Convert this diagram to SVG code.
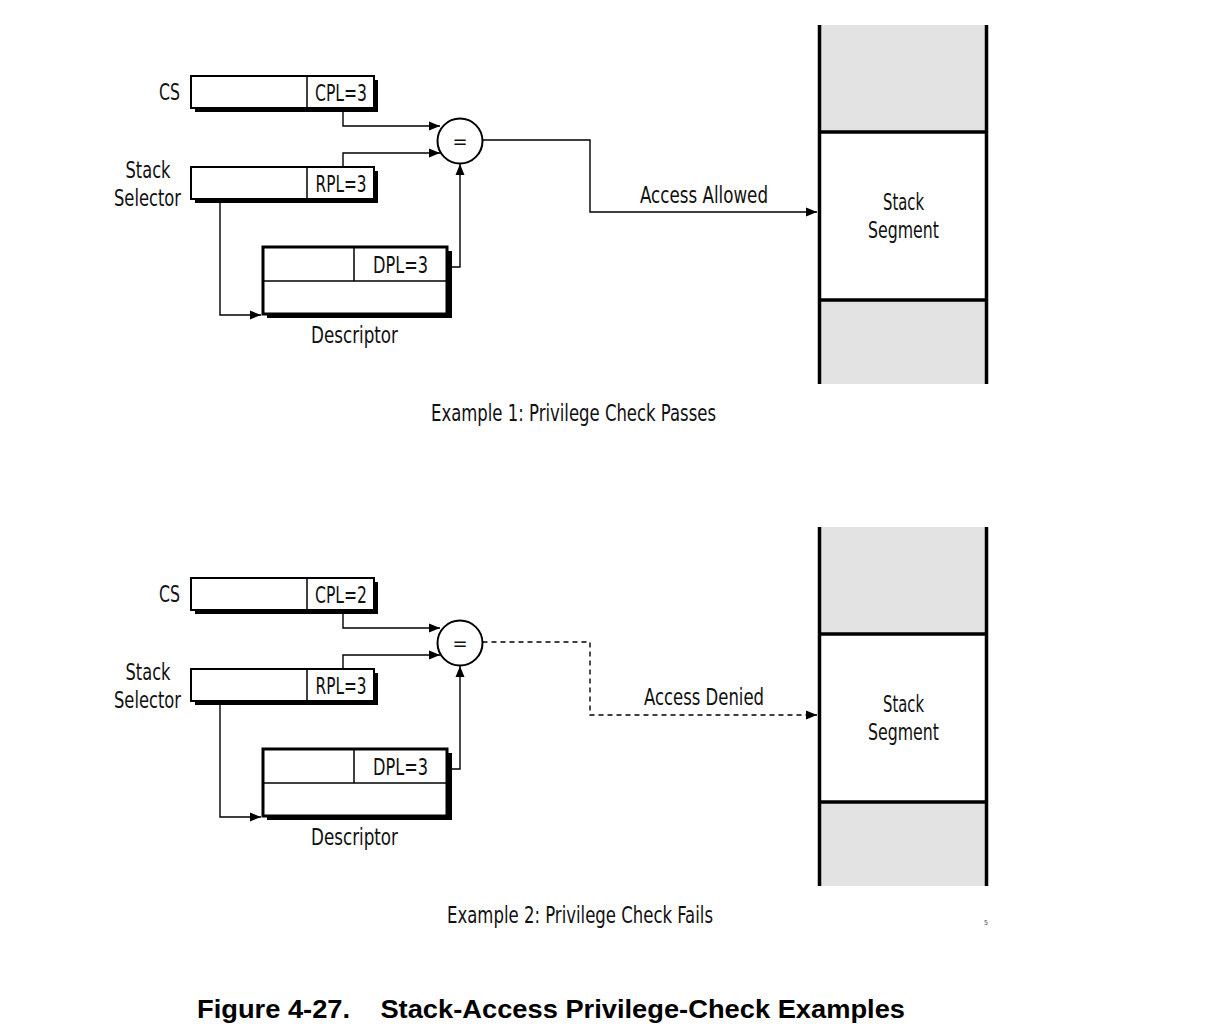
<svg xmlns="http://www.w3.org/2000/svg" width="1206" height="1034" viewBox="0 0 1206 1034">
<defs>
<marker id="arr" markerUnits="userSpaceOnUse" markerWidth="12" markerHeight="10" refX="11" refY="5" orient="auto">
<path d="M0,0.5 L11,5 L0,9.5 z" fill="#000"/>
</marker>
<style>
text{font-family:"Liberation Sans Narrow","DejaVu Sans Condensed","Liberation Sans",sans-serif;font-size:23px;fill:#111}
.cap{font-family:"Liberation Sans",Arial,sans-serif;font-weight:bold;font-size:26px;fill:#000}
.tiny{font-size:7px;fill:#445}
.eq{font-size:20px}
.sh{fill:#000}
.bx{fill:#fff;stroke:#000;stroke-width:2}
.dbx{fill:#fff;stroke:#000;stroke-width:3}
.div{stroke:#000;stroke-width:1.5;fill:none}
.con{stroke:#000;stroke-width:1.4;fill:none}
.dash{stroke-dasharray:5,4}
.cmp{fill:#fff;stroke:#000;stroke-width:2}
.gray{fill:#e3e3e3}
.wall{stroke:#000;stroke-width:3.5;fill:none}
.mid{text-anchor:middle}
.end{text-anchor:end}
</style>
</defs>
<rect width="1206" height="1034" fill="#fff"/>

<!-- Example 1 -->
<g id="ex1">
<g id="cs1">
<rect class="sh" x="195" y="80" width="183" height="32"/>
<rect class="bx" x="191" y="76" width="183" height="32"/>
<line class="div" x1="307" y1="76" x2="307" y2="108"/>
<text x="341" y="101" class="mid" textLength="52" lengthAdjust="spacingAndGlyphs">CPL=3</text>
<text x="180" y="100" class="end" textLength="21" lengthAdjust="spacingAndGlyphs">CS</text>
</g>
<g id="sel1">
<rect class="sh" x="195" y="171" width="183" height="32"/>
<rect class="bx" x="191" y="167" width="183" height="32"/>
<line class="div" x1="307" y1="167" x2="307" y2="199"/>
<text x="341" y="192" class="mid" textLength="51" lengthAdjust="spacingAndGlyphs">RPL=3</text>
<text x="148" y="178" class="mid" textLength="45" lengthAdjust="spacingAndGlyphs">Stack</text>
<text x="147.5" y="206" class="mid" textLength="67" lengthAdjust="spacingAndGlyphs">Selector</text>
</g>
<g id="desc1">
<rect class="sh" x="267" y="251" width="185" height="67"/>
<rect class="dbx" x="263" y="247" width="184" height="67"/>
<line class="div" x1="263" y1="281" x2="447" y2="281"/>
<line class="div" x1="354" y1="247" x2="354" y2="281"/>
<text x="400.5" y="273" class="mid" textLength="55" lengthAdjust="spacingAndGlyphs">DPL=3</text>
<text x="354.5" y="343" class="mid" textLength="87" lengthAdjust="spacingAndGlyphs">Descriptor</text>
</g>
<g id="cmp1">
<circle class="cmp" cx="460" cy="141" r="22.5"/>
<text x="460" y="148" class="mid eq">=</text>
</g>
<g id="seg1">
<rect class="gray" x="820" y="25" width="166" height="359"/>
<rect fill="#fff" x="820" y="132" width="166" height="168"/>
<line class="wall" x1="819.5" y1="25" x2="819.5" y2="384"/>
<line class="wall" x1="986.5" y1="25" x2="986.5" y2="384"/>
<line class="wall" x1="818" y1="132" x2="988" y2="132"/>
<line class="wall" x1="818" y1="300" x2="988" y2="300"/>
<text x="903.5" y="210" class="mid" textLength="41" lengthAdjust="spacingAndGlyphs">Stack</text>
<text x="903.5" y="238" class="mid" textLength="71" lengthAdjust="spacingAndGlyphs">Segment</text>
</g>
<g id="conn1">
<path class="con" d="M343,108 V126 H440" marker-end="url(#arr)"/>
<path class="con" d="M343,167 V153 H440" marker-end="url(#arr)"/>
<path class="con" d="M449,267 H460 V164" marker-end="url(#arr)"/>
<path class="con" d="M220,203 V315 H261" marker-end="url(#arr)"/>
<path class="con" d="M482.5,140 H590 V212 H817" marker-end="url(#arr)"/>
<text x="704" y="203" class="mid" textLength="128" lengthAdjust="spacingAndGlyphs">Access Allowed</text>
</g>
<text x="573.5" y="421" class="mid" textLength="285" lengthAdjust="spacingAndGlyphs">Example 1: Privilege Check Passes</text>
</g>

<!-- Example 2 -->
<g id="ex2" transform="translate(0,502)">
<g id="cs2">
<rect class="sh" x="195" y="80" width="183" height="32"/>
<rect class="bx" x="191" y="76" width="183" height="32"/>
<line class="div" x1="307" y1="76" x2="307" y2="108"/>
<text x="341" y="101" class="mid" textLength="52" lengthAdjust="spacingAndGlyphs">CPL=2</text>
<text x="180" y="100" class="end" textLength="21" lengthAdjust="spacingAndGlyphs">CS</text>
</g>
<g id="sel2">
<rect class="sh" x="195" y="171" width="183" height="32"/>
<rect class="bx" x="191" y="167" width="183" height="32"/>
<line class="div" x1="307" y1="167" x2="307" y2="199"/>
<text x="341" y="192" class="mid" textLength="51" lengthAdjust="spacingAndGlyphs">RPL=3</text>
<text x="148" y="178" class="mid" textLength="45" lengthAdjust="spacingAndGlyphs">Stack</text>
<text x="147.5" y="206" class="mid" textLength="67" lengthAdjust="spacingAndGlyphs">Selector</text>
</g>
<g id="desc2">
<rect class="sh" x="267" y="251" width="185" height="67"/>
<rect class="dbx" x="263" y="247" width="184" height="67"/>
<line class="div" x1="263" y1="281" x2="447" y2="281"/>
<line class="div" x1="354" y1="247" x2="354" y2="281"/>
<text x="400.5" y="273" class="mid" textLength="55" lengthAdjust="spacingAndGlyphs">DPL=3</text>
<text x="354.5" y="343" class="mid" textLength="87" lengthAdjust="spacingAndGlyphs">Descriptor</text>
</g>
<g id="cmp2">
<circle class="cmp" cx="460" cy="141" r="22.5"/>
<text x="460" y="148" class="mid eq">=</text>
</g>
<g id="seg2">
<rect class="gray" x="820" y="25" width="166" height="359"/>
<rect fill="#fff" x="820" y="132" width="166" height="168"/>
<line class="wall" x1="819.5" y1="25" x2="819.5" y2="384"/>
<line class="wall" x1="986.5" y1="25" x2="986.5" y2="384"/>
<line class="wall" x1="818" y1="132" x2="988" y2="132"/>
<line class="wall" x1="818" y1="300" x2="988" y2="300"/>
<text x="903.5" y="210" class="mid" textLength="41" lengthAdjust="spacingAndGlyphs">Stack</text>
<text x="903.5" y="238" class="mid" textLength="71" lengthAdjust="spacingAndGlyphs">Segment</text>
</g>
<g id="conn2">
<path class="con" d="M343,108 V126 H440" marker-end="url(#arr)"/>
<path class="con" d="M343,167 V153 H440" marker-end="url(#arr)"/>
<path class="con" d="M449,267 H460 V164" marker-end="url(#arr)"/>
<path class="con" d="M220,203 V315 H261" marker-end="url(#arr)"/>
<path class="con dash" d="M482.5,140 H590 V213 H817" marker-end="url(#arr)"/>
<text x="704" y="203" class="mid" textLength="120" lengthAdjust="spacingAndGlyphs">Access Denied</text>
</g>
<text x="580" y="421" class="mid" textLength="266" lengthAdjust="spacingAndGlyphs">Example 2: Privilege Check Fails</text>
</g>

<text x="986" y="925" class="mid tiny">5</text>
<text x="197" y="1018" class="cap" textLength="708" lengthAdjust="spacingAndGlyphs" xml:space="preserve">Figure 4-27.    Stack-Access Privilege-Check Examples</text>
</svg>
